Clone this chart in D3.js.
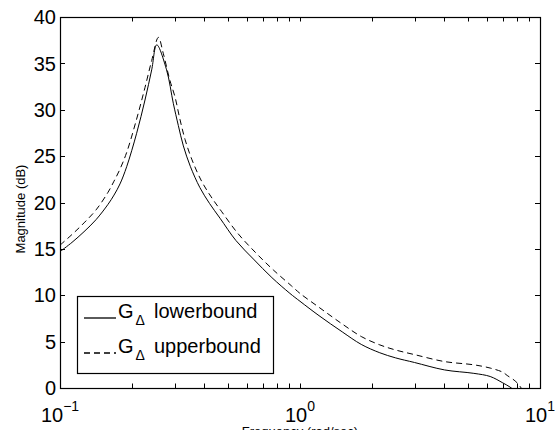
<!DOCTYPE html>
<html>
<head>
<meta charset="utf-8">
<script src="https://cdn.jsdelivr.net/npm/d3@7"></script>
<style>
	html, body { margin: 0; padding: 0; background: #fff; }
	svg { display: block; font-family: "Liberation Sans", Arial, Helvetica, sans-serif; }
</style>
</head>
<body>
<div id="chart"></div>
<script>
(function() {
	"use strict";

	// lower bound (solid)
	var freqLower = [0.1, 0.1122, 0.1259, 0.1413, 0.1585, 0.1679, 0.1778, 0.1896, 0.2086, 0.226, 0.241, 0.253,
		0.278, 0.2965, 0.3112, 0.3266, 0.3491, 0.3828, 0.4198, 0.4645, 0.5408, 0.6397, 0.7638, 0.9078,
		1.0, 1.2, 1.5, 1.8, 2.15, 2.5, 3.0, 4.0, 5.3, 6.2, 7.0, 7.5, 7.75, 8.0];
	var magLower = [14.7, 15.7, 16.85, 18.15, 19.8, 20.8, 22.0, 23.86, 27.46, 31.05, 34.3, 37.0,
		34.3, 30.7, 28.3, 26.1, 23.9, 21.6, 19.9, 18.3, 15.9, 13.9, 11.9, 10.2,
		9.35, 7.8, 6.05, 4.7, 3.8, 3.25, 2.75, 1.95, 1.58, 1.24, 0.55, 0.1, -0.2, -0.8];

	// upper bound (dashed)
	var freqUpper = [0.1, 0.1122, 0.1259, 0.1413, 0.1585, 0.1679, 0.1778, 0.1896, 0.2086, 0.226, 0.241, 0.257,
		0.2692, 0.2868, 0.3013, 0.3162, 0.3319, 0.3548, 0.389, 0.4266, 0.4721, 0.5495, 0.6501, 0.7762, 0.9226,
		1.0, 1.2, 1.5, 1.8, 2.15, 2.5, 3.0, 4.0, 5.3, 6.2, 7.0, 7.3, 7.8, 8.1, 8.4, 8.7];
	var magUpper = [15.4, 16.55, 17.8, 19.2, 21.1, 22.3, 23.6, 25.4, 29.0, 32.4, 35.3, 37.8,
		36.1, 33.2, 31.4, 28.95, 26.8, 24.6, 22.3, 20.6, 19.0, 16.7, 14.65, 12.7, 11.0,
		10.2, 8.7, 6.9, 5.55, 4.65, 4.1, 3.6, 2.85, 2.5, 2.15, 1.7, 1.35, 0.85, 0.45, -0.1, -0.7];

	var yTicks = [0, 5, 10, 15, 20, 25, 30, 35, 40];
	var xDecades = [-1, 0, 1];
	var xMinor = [0.2, 0.3, 0.4, 0.5, 0.6, 0.7, 0.8, 0.9, 2, 3, 4, 5, 6, 7, 8, 9];
	var legendLabels = ['lowerbound', 'upperbound'];

	var W = 555, H = 430;
	var left = 60, right = 540, top = 17, bottom = 388;

	var x = d3.scaleLog().domain([0.1, 10]).range([left, right]);
	var y = d3.scaleLinear().domain([0, 40]).range([bottom, top]);

	var svg = d3.select('#chart').append('svg')
		.attr('width', W)
		.attr('height', H);

	svg.append('clipPath').attr('id', 'plot-clip')
		.append('rect')
		.attr('x', left).attr('y', top)
		.attr('width', right - left).attr('height', bottom - top);

	// ticks, all pointing inward, on both sides of the box
	var tickLayer = svg.append('g').attr('stroke', '#000').attr('stroke-width', 1);

	yTicks.forEach(function (v) {
		var py = Math.round(y(v)) + 0.5;
		tickLayer.append('line').attr('x1', left).attr('x2', left + 5).attr('y1', py).attr('y2', py);
		tickLayer.append('line').attr('x1', right).attr('x2', right - 5).attr('y1', py).attr('y2', py);
	});

	xMinor.concat(xDecades.map(function (e) { return Math.pow(10, e); })).forEach(function (v) {
		var px = Math.round(x(v)) + 0.5;
		tickLayer.append('line').attr('x1', px).attr('x2', px).attr('y1', bottom).attr('y2', bottom - 4.5);
		tickLayer.append('line').attr('x1', px).attr('x2', px).attr('y1', top).attr('y2', top + 4.5);
	});

	// box
	svg.append('rect')
		.attr('x', left + 0.5).attr('y', top + 0.5)
		.attr('width', right - left).attr('height', bottom - top)
		.attr('fill', 'none')
		.attr('stroke', '#000')
		.attr('stroke-width', 1.2);

	// y tick labels
	svg.append('g').selectAll('text')
		.data(yTicks)
		.enter()
		.append('text')
		.attr('x', 56)
		.attr('y', function (v) { return y(v); })
		.attr('dy', '0.36em')
		.attr('text-anchor', 'end')
		.attr('font-size', 20)
		.text(function (v) { return v; });

	// x tick labels as 10^n
	var xl = svg.append('g').selectAll('text')
		.data(xDecades)
		.enter()
		.append('text')
		.attr('x', function (e) { return x(Math.pow(10, e)); })
		.attr('y', 422)
		.attr('text-anchor', 'middle')
		.attr('font-size', 20);
	xl.append('tspan').text('10');
	xl.append('tspan')
		.attr('dy', -11)
		.attr('font-size', 14)
		.text(function (e) { return e < 0 ? '\u2212' + (-e) : String(e); });

	// axis titles (the x title is cut by the bottom edge, as in the original)
	svg.append('text')
		.attr('x', 300)
		.attr('y', 436)
		.attr('text-anchor', 'middle')
		.attr('font-size', 13)
		.text('Frequency  (rad/sec)');

	svg.append('text')
		.attr('transform', 'translate(25,209) rotate(-90)')
		.attr('text-anchor', 'middle')
		.attr('font-size', 13)
		.text('Magnitude (dB)');

	// curves
	var line = d3.line()
		.x(function (d) { return x(d[0]); })
		.y(function (d) { return y(d[1]); })
		.curve(d3.curveCatmullRom.alpha(0.5));

	var plot = svg.append('g').attr('clip-path', 'url(#plot-clip)');

	plot.append('path')
		.datum(d3.zip(freqLower, magLower))
		.attr('d', line)
		.attr('fill', 'none')
		.attr('stroke', '#000')
		.attr('stroke-width', 1);

	plot.append('path')
		.datum(d3.zip(freqUpper, magUpper))
		.attr('d', line)
		.attr('fill', 'none')
		.attr('stroke', '#000')
		.attr('stroke-width', 1)
		.attr('stroke-dasharray', '6,4');

	// legend
	var legend = svg.append('g');
	legend.append('rect')
		.attr('x', 77.5).attr('y', 296.5)
		.attr('width', 196).attr('height', 77)
		.attr('fill', '#fff')
		.attr('stroke', '#000')
		.attr('stroke-width', 1.2);

	var rows = legend.selectAll('g.legend-row')
		.data(legendLabels)
		.enter()
		.append('g')
		.classed('legend-row', true)
		.attr('transform', function (d, i) { return 'translate(0,' + (318 + i * 35) + ')'; });

	rows.append('line')
		.attr('x1', 84).attr('x2', 116)
		.attr('y1', 0).attr('y2', 0)
		.attr('stroke', '#000')
		.attr('stroke-width', 1.3)
		.attr('stroke-dasharray', function (d, i) { return i === 1 ? '6,4' : null; });

	rows.append('text')
		.attr('x', 118).attr('y', 0)
		.attr('font-size', 20)
		.text('G');
	rows.append('text')
		.attr('x', 135.5).attr('y', 7)
		.attr('font-size', 14)
		.text('\u0394');
	rows.append('text')
		.attr('x', 154).attr('y', 0)
		.attr('font-size', 20)
		.text(function (d) { return d; });
}());
</script>
</body>
</html>
